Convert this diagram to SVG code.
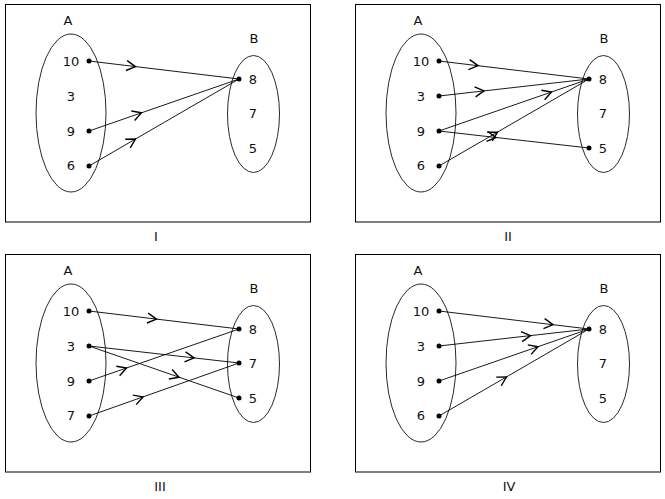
<svg xmlns="http://www.w3.org/2000/svg" width="665" height="499" viewBox="0 0 665 499">
<defs>
<style>
text{font-family:"DejaVu Sans","Liberation Sans",sans-serif;font-size:13px;fill:#111;text-anchor:middle}
.frame{fill:none;stroke:#000;stroke-width:1}
.set{fill:none;stroke:#111;stroke-width:0.9}
.dot{fill:#000}
.conn path{fill:none;stroke:#000;stroke-width:0.9;marker-mid:url(#v)}
</style>
<marker id="v" markerUnits="userSpaceOnUse" markerWidth="24" markerHeight="24" viewBox="-12 -12 24 24" refX="0" refY="0" orient="auto">
<path d="M-9,-5 L0,0 L-9,5" fill="none" stroke="#000" stroke-width="1.4"/>
</marker>
</defs>
<rect width="665" height="499" fill="#fff"/>

<!-- Panel I -->
<g id="panel-I">
<rect class="frame" x="5.5" y="4.5" width="305" height="217.5"/>
<g id="I-setA"><ellipse class="set" cx="71" cy="113" rx="35" ry="79"/><text x="68" y="24.7">A</text></g>
<g id="I-setB"><ellipse class="set" cx="253.5" cy="114" rx="26" ry="58.5"/><text x="254" y="42.7">B</text></g>
<g id="I-a10"><text x="71" y="65.7">10</text><circle class="dot" cx="89" cy="61" r="2.5"/></g>
<g id="I-a3"><text x="71" y="100.7">3</text></g>
<g id="I-a9"><text x="71" y="135.7">9</text><circle class="dot" cx="89" cy="131" r="2.5"/></g>
<g id="I-a6"><text x="71" y="169.7">6</text><circle class="dot" cx="89" cy="166" r="2.5"/></g>
<g id="I-b8"><text x="253" y="83.7">8</text><circle class="dot" cx="239" cy="79" r="2.5"/></g>
<g id="I-b7"><text x="253" y="117.7">7</text></g>
<g id="I-b5"><text x="253" y="152.7">5</text></g>
<g id="I-connectors" class="conn">
<path d="M89,61 L135.5,66.6 L239,79"/>
<path d="M89,131 L141.5,112.8 L239,79"/>
<path d="M89,166 L135.5,139 L239,79"/>
</g>
<text x="156" y="240.7">I</text>
</g>

<!-- Panel II -->
<g id="panel-II" transform="translate(350,0)">
<rect class="frame" x="5.5" y="4.5" width="305" height="217.5"/>
<g id="II-setA"><ellipse class="set" cx="71" cy="113" rx="35" ry="79"/><text x="68" y="24.7">A</text></g>
<g id="II-setB"><ellipse class="set" cx="253.5" cy="114" rx="26" ry="58.5"/><text x="254" y="42.7">B</text></g>
<g id="II-a10"><text x="71" y="65.7">10</text><circle class="dot" cx="89" cy="61" r="2.5"/></g>
<g id="II-a3"><text x="71" y="100.7">3</text><circle class="dot" cx="89" cy="96" r="2.5"/></g>
<g id="II-a9"><text x="71" y="135.7">9</text><circle class="dot" cx="89" cy="131" r="2.5"/></g>
<g id="II-a6"><text x="71" y="169.7">6</text><circle class="dot" cx="89" cy="166" r="2.5"/></g>
<g id="II-b8"><text x="253" y="83.7">8</text><circle class="dot" cx="239" cy="79" r="2.5"/></g>
<g id="II-b7"><text x="253" y="117.7">7</text></g>
<g id="II-b5"><text x="253" y="152.7">5</text><circle class="dot" cx="239" cy="148" r="2.5"/></g>
<g id="II-connectors" class="conn">
<path d="M89,61 L128,65.7 L239,79"/>
<path d="M89,96 L134,90.9 L239,79"/>
<path d="M89,131 L201.5,92 L239,79"/>
<path d="M89,131 L146,137.5 L239,148"/>
<path d="M89,166 L147.5,132.1 L239,79"/>
</g>
<text x="158" y="240.7">II</text>
</g>

<!-- Panel III -->
<g id="panel-III" transform="translate(0,250)">
<rect class="frame" x="5.5" y="4.5" width="305" height="217.5"/>
<g id="III-setA"><ellipse class="set" cx="71" cy="113" rx="35" ry="79"/><text x="68" y="24.7">A</text></g>
<g id="III-setB"><ellipse class="set" cx="253.5" cy="114" rx="26" ry="58.5"/><text x="254" y="42.7">B</text></g>
<g id="III-a10"><text x="71" y="65.7">10</text><circle class="dot" cx="89" cy="61" r="2.5"/></g>
<g id="III-a3"><text x="71" y="100.7">3</text><circle class="dot" cx="89" cy="96" r="2.5"/></g>
<g id="III-a9"><text x="71" y="135.7">9</text><circle class="dot" cx="89" cy="131" r="2.5"/></g>
<g id="III-a7"><text x="71" y="169.7">7</text><circle class="dot" cx="89" cy="166" r="2.5"/></g>
<g id="III-b8"><text x="253" y="83.7">8</text><circle class="dot" cx="239" cy="79" r="2.5"/></g>
<g id="III-b7"><text x="253" y="117.7">7</text><circle class="dot" cx="239" cy="113" r="2.5"/></g>
<g id="III-b5"><text x="253" y="152.7">5</text><circle class="dot" cx="239" cy="148" r="2.5"/></g>
<g id="III-connectors" class="conn">
<path d="M89,61 L156.5,69.1 L239,79"/>
<path d="M89,96 L194,107.9 L239,113"/>
<path d="M89,96 L179,127.2 L239,148"/>
<path d="M89,131 L126.5,118 L239,79"/>
<path d="M89,166 L143,146.9 L239,113"/>
</g>
<text x="160" y="240.7">III</text>
</g>

<!-- Panel IV -->
<g id="panel-IV" transform="translate(350,250)">
<rect class="frame" x="5.5" y="4.5" width="305" height="217.5"/>
<g id="IV-setA"><ellipse class="set" cx="71" cy="113" rx="35" ry="79"/><text x="68" y="24.7">A</text></g>
<g id="IV-setB"><ellipse class="set" cx="253.5" cy="114" rx="26" ry="58.5"/><text x="254" y="42.7">B</text></g>
<g id="IV-a10"><text x="71" y="65.7">10</text><circle class="dot" cx="89" cy="61" r="2.5"/></g>
<g id="IV-a3"><text x="71" y="100.7">3</text><circle class="dot" cx="89" cy="96" r="2.5"/></g>
<g id="IV-a9"><text x="71" y="135.7">9</text><circle class="dot" cx="89" cy="131" r="2.5"/></g>
<g id="IV-a6"><text x="71" y="169.7">6</text><circle class="dot" cx="89" cy="166" r="2.5"/></g>
<g id="IV-b8"><text x="253" y="83.7">8</text><circle class="dot" cx="239" cy="79" r="2.5"/></g>
<g id="IV-b7"><text x="253" y="117.7">7</text></g>
<g id="IV-b5"><text x="253" y="152.7">5</text></g>
<g id="IV-connectors" class="conn">
<path d="M89,61 L203,74.7 L239,79"/>
<path d="M89,96 L180.5,85.6 L239,79"/>
<path d="M89,131 L188,96.7 L239,79"/>
<path d="M89,166 L156.5,126.9 L239,79"/>
</g>
<text x="159" y="240.7">IV</text>
</g>
</svg>
